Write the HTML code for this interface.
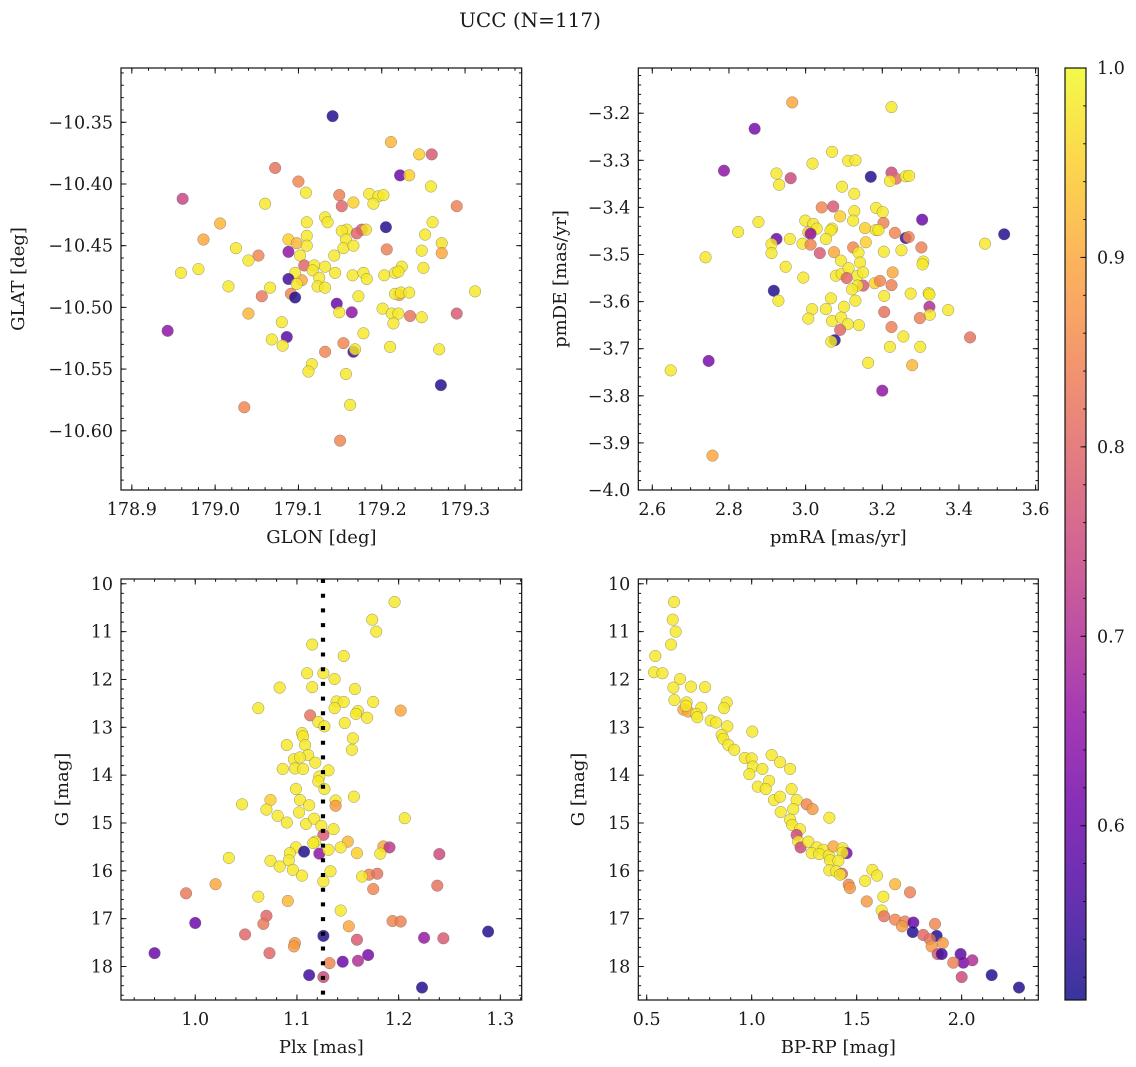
<!DOCTYPE html>
<html><head><meta charset="utf-8">
<style>
html,body{margin:0;padding:0;background:#fff;}
svg{display:block;}
text{font-family:"DejaVu Serif","Liberation Serif",serif;fill:#1a1a1a;}
</style></head>
<body>
<svg id="fig" width="1136" height="1067" viewBox="0 0 1136 1067" xmlns="http://www.w3.org/2000/svg">
<rect width="1136" height="1067" fill="#fff"/>
<text x="530" y="27" font-size="20" text-anchor="middle">UCC (N=117)</text>
</svg>
<script>
// ---- data ----
const glon=[179.141,179.211,179.245,179.260,179.222,179.233,179.259,179.072,179.100,179.109,178.961,179.149,179.152,179.166,179.185,179.196,179.202,179.190,179.290,179.060,179.006,179.132,179.135,179.110,179.205,179.261,179.158,179.152,179.176,179.181,179.170,178.986,179.025,179.088,179.098,179.110,179.110,179.157,179.154,179.166,179.252,179.206,179.088,179.102,179.052,179.272,179.272,179.248,179.040,179.143,179.107,179.119,179.132,179.117,179.104,179.096,179.250,179.224,178.959,178.980,179.144,179.165,179.178,179.182,179.203,179.216,179.220,179.088,179.098,179.125,179.123,179.132,179.016,179.066,179.056,179.091,179.096,179.172,179.221,179.216,179.223,179.233,179.312,179.146,179.149,179.164,179.201,179.212,179.220,179.234,179.248,179.290,179.040,178.943,179.080,179.214,179.086,179.068,179.081,179.154,179.166,179.168,179.178,179.210,179.269,179.132,179.116,179.112,179.157,179.271,179.035,179.162,179.150];
const glat=[-10.345,-10.366,-10.376,-10.376,-10.393,-10.393,-10.402,-10.387,-10.398,-10.407,-10.412,-10.409,-10.418,-10.415,-10.408,-10.410,-10.409,-10.416,-10.418,-10.416,-10.432,-10.427,-10.431,-10.431,-10.435,-10.431,-10.437,-10.438,-10.437,-10.437,-10.440,-10.445,-10.452,-10.445,-10.448,-10.442,-10.450,-10.445,-10.452,-10.450,-10.441,-10.453,-10.455,-10.458,-10.458,-10.448,-10.456,-10.454,-10.462,-10.458,-10.466,-10.466,-10.467,-10.470,-10.478,-10.472,-10.468,-10.467,-10.472,-10.469,-10.472,-10.474,-10.472,-10.477,-10.474,-10.472,-10.471,-10.477,-10.481,-10.476,-10.483,-10.484,-10.483,-10.484,-10.491,-10.489,-10.492,-10.491,-10.490,-10.489,-10.488,-10.488,-10.487,-10.497,-10.504,-10.504,-10.501,-10.505,-10.505,-10.507,-10.508,-10.505,-10.505,-10.519,-10.512,-10.513,-10.524,-10.526,-10.531,-10.529,-10.536,-10.534,-10.521,-10.532,-10.534,-10.536,-10.546,-10.552,-10.554,-10.563,-10.581,-10.579,-10.608];
const prob1=[.52,.92,.95,.78,.6,.95,.98,.82,.85,.98,.74,.84,.8,.95,.98,.98,.98,.98,.84,.98,.92,.98,.98,.98,.52,.98,.98,.98,.78,.97,.8,.9,.98,.95,.92,.98,.98,.98,.98,.98,.98,.84,.65,.98,.85,.97,.9,.98,.98,.98,.8,.98,.98,.98,.9,.98,.98,.98,.98,.98,.98,.98,.98,.98,.98,.98,.98,.55,.98,.98,.98,.98,.98,.98,.83,.85,.52,.98,.9,.98,.98,.98,.98,.6,.98,.65,.98,.98,.98,.82,.98,.78,.92,.65,.98,.98,.58,.98,.98,.85,.55,.98,.98,.98,.98,.85,.98,.98,.98,.52,.85,.98,.85];

const pmra=[2.965,3.224,2.867,3.069,3.018,3.111,3.130,2.787,2.924,2.931,2.961,3.170,3.224,3.236,3.220,3.261,3.270,3.095,3.127,3.042,3.072,3.090,3.127,3.124,3.184,3.201,3.203,3.304,2.877,2.824,2.999,3.020,3.029,3.007,3.013,3.069,3.065,3.155,3.183,3.190,3.233,3.261,3.269,3.518,2.924,2.911,2.959,2.992,3.013,3.053,3.157,3.468,2.739,2.911,3.037,3.074,3.124,3.138,3.204,3.250,3.302,2.948,3.092,3.142,3.307,3.305,2.994,3.079,3.094,3.112,3.135,3.150,3.227,3.107,3.150,3.135,3.121,3.180,3.194,3.224,2.917,2.929,3.066,3.130,3.205,3.274,3.321,3.323,3.323,3.324,3.372,3.017,3.007,3.053,3.100,3.069,3.093,3.110,3.139,3.090,3.298,3.205,3.224,3.429,3.076,3.067,3.255,3.220,3.299,2.747,2.648,3.163,3.278,3.200,2.757];
const pmde=[-3.177,-3.187,-3.233,-3.282,-3.307,-3.301,-3.300,-3.322,-3.328,-3.352,-3.338,-3.335,-3.326,-3.339,-3.344,-3.334,-3.333,-3.356,-3.371,-3.400,-3.398,-3.419,-3.408,-3.428,-3.401,-3.410,-3.433,-3.426,-3.431,-3.452,-3.428,-3.435,-3.445,-3.453,-3.456,-3.445,-3.449,-3.444,-3.448,-3.448,-3.454,-3.465,-3.463,-3.457,-3.467,-3.478,-3.467,-3.477,-3.479,-3.467,-3.474,-3.477,-3.506,-3.497,-3.497,-3.495,-3.485,-3.496,-3.494,-3.491,-3.485,-3.526,-3.513,-3.517,-3.515,-3.521,-3.549,-3.545,-3.541,-3.529,-3.545,-3.538,-3.538,-3.550,-3.566,-3.566,-3.574,-3.561,-3.556,-3.565,-3.577,-3.598,-3.593,-3.598,-3.588,-3.583,-3.582,-3.585,-3.611,-3.628,-3.618,-3.616,-3.636,-3.616,-3.611,-3.641,-3.634,-3.648,-3.650,-3.660,-3.635,-3.622,-3.654,-3.676,-3.682,-3.685,-3.674,-3.696,-3.696,-3.726,-3.746,-3.730,-3.735,-3.789,-3.927];
const prob2=[.9,.98,.62,.98,.98,.98,.98,.65,.98,.98,.75,.52,.75,.82,.98,.98,.98,.98,.98,.85,.78,.95,.98,.98,.98,.98,.84,.6,.98,.98,.98,.98,.98,.95,.65,.98,.98,.95,.98,.98,.85,.55,.85,.52,.6,.98,.98,.98,.85,.98,.95,.98,.98,.98,.78,.9,.85,.98,.98,.98,.84,.98,.98,.98,.98,.98,.98,.98,.98,.98,.98,.98,.9,.8,.78,.98,.98,.95,.85,.84,.52,.98,.98,.98,.98,.98,.98,.98,.7,.98,.98,.98,.98,.98,.98,.98,.98,.98,.98,.8,.84,.82,.84,.82,.52,.98,.98,.98,.98,.62,.98,.98,.92,.65,.9];

const plx=[1.196,1.174,1.178,1.115,1.146,1.110,1.126,1.137,1.083,1.115,1.157,1.062,1.139,1.146,1.137,1.175,1.202,1.160,1.158,1.169,1.113,1.121,1.127,1.147,1.105,1.106,1.155,1.154,1.090,1.108,1.111,1.097,1.103,1.118,1.086,1.098,1.106,1.131,1.122,1.121,1.127,1.099,1.156,1.046,1.074,1.103,1.138,1.138,1.112,1.070,1.102,1.081,1.090,1.109,1.117,1.124,1.136,1.206,1.126,1.118,1.116,1.150,1.143,1.099,1.093,1.107,1.122,1.131,1.159,1.185,1.191,1.182,1.240,1.033,1.074,1.092,1.083,1.096,1.105,1.133,1.171,1.179,1.164,1.126,1.020,0.991,1.238,1.175,1.062,1.091,1.143,1.070,1.067,1.000,1.151,1.194,1.202,1.288,1.049,1.098,1.097,1.159,1.126,1.225,1.244,0.960,1.073,1.170,1.145,1.160,1.132,1.112,1.126,1.223];
const gmag3=[10.38,10.75,11.00,11.27,11.51,11.87,11.87,11.99,12.17,12.16,12.20,12.60,12.46,12.47,12.60,12.47,12.65,12.66,12.72,12.80,12.75,12.89,12.98,12.91,13.12,13.19,13.23,13.47,13.37,13.37,13.58,13.67,13.63,13.74,13.87,13.86,13.87,13.90,14.03,14.13,14.29,14.29,14.45,14.61,14.52,14.52,14.53,14.64,14.63,14.72,14.78,14.85,14.99,15.02,14.91,15.06,15.13,14.90,15.25,15.39,15.42,15.39,15.51,15.51,15.63,15.60,15.64,15.56,15.63,15.49,15.51,15.64,15.65,15.73,15.79,15.78,15.91,15.98,16.10,16.01,16.08,16.06,16.12,16.22,16.28,16.47,16.31,16.38,16.54,16.63,16.83,16.94,17.11,17.09,17.16,17.05,17.06,17.27,17.33,17.51,17.58,17.44,17.36,17.40,17.41,17.72,17.72,17.76,17.90,17.88,17.93,18.18,18.22,18.44];
const prob3=[.98,.98,.98,.98,.98,.98,.98,.98,.98,.98,.98,.98,.98,.98,.98,.98,.9,.98,.98,.98,.82,.98,.98,.98,.98,.98,.98,.98,.98,.98,.98,.98,.98,.98,.98,.98,.98,.98,.98,.98,.98,.98,.98,.98,.95,.98,.98,.88,.98,.98,.98,.98,.98,.98,.98,.98,.98,.98,.78,.98,.98,.92,.98,.98,.98,.52,.65,.98,.95,.9,.72,.98,.75,.98,.98,.98,.98,.98,.98,.98,.85,.82,.98,.98,.9,.83,.82,.85,.98,.92,.98,.8,.83,.6,.9,.85,.84,.52,.8,.88,.88,.78,.52,.66,.78,.6,.8,.62,.6,.7,.85,.55,.75,.52];
const plxRef=[1.1256];

const bprp=[0.630,0.624,0.638,0.616,0.541,0.535,0.575,0.659,0.627,0.711,0.778,0.632,0.690,0.675,0.698,0.687,0.760,0.735,0.741,0.805,0.830,0.881,0.868,0.884,1.003,0.857,0.865,0.889,0.917,0.967,1.000,1.095,1.135,1.183,1.005,1.051,0.989,1.083,1.029,1.067,1.190,1.106,1.135,1.214,1.262,1.290,1.138,1.198,1.370,1.183,1.192,1.230,1.214,1.222,1.233,1.270,1.310,1.286,1.341,1.322,1.367,1.389,1.433,1.452,1.433,1.373,1.413,1.370,1.402,1.430,1.421,1.462,1.468,1.540,1.575,1.597,1.683,1.754,1.627,1.548,1.619,1.630,1.683,1.730,1.770,1.716,1.767,1.873,1.817,1.881,1.849,1.910,1.857,1.886,1.905,1.995,2.008,2.051,1.960,2.000,2.143,2.273];
const gmag4=[10.38,10.75,11.00,11.27,11.51,11.85,11.87,11.99,12.17,12.15,12.16,12.43,12.48,12.63,12.67,12.55,12.59,12.72,12.79,12.86,12.90,12.48,12.60,12.98,13.09,13.16,13.24,13.37,13.47,13.64,13.65,13.58,13.73,13.87,13.82,13.87,13.98,14.12,14.24,14.29,14.29,14.52,14.45,14.52,14.61,14.71,14.77,14.71,14.89,14.93,15.04,15.13,15.25,15.39,15.51,15.39,15.51,15.63,15.56,15.65,15.68,15.49,15.53,15.63,15.62,15.78,15.79,15.99,16.01,16.06,16.08,16.29,16.36,16.21,15.98,16.10,16.28,16.45,16.54,16.64,16.83,16.95,17.02,17.06,17.08,17.16,17.28,17.11,17.34,17.36,17.43,17.51,17.58,17.74,17.74,17.74,17.92,17.87,17.92,18.22,18.18,18.44];
const prob4=[.98,.98,.98,.98,.98,.98,.98,.98,.98,.98,.98,.98,.98,.9,.9,.98,.98,.98,.98,.98,.98,.98,.98,.98,.98,.98,.98,.98,.98,.98,.98,.98,.98,.98,.98,.98,.98,.98,.98,.98,.98,.98,.98,.98,.85,.88,.98,.98,.98,.98,.98,.98,.75,.98,.75,.98,.98,.98,.98,.98,.98,.9,.98,.62,.98,.98,.98,.98,.98,.8,.98,.85,.88,.98,.98,.98,.92,.84,.98,.88,.98,.82,.85,.84,.6,.88,.52,.85,.8,.52,.82,.88,.88,.78,.55,.58,.62,.7,.84,.75,.52,.52];

const cbTicks=[0.6,0.7,0.8,0.9,1.0];
const cbMin=0.508, cbMax=1.0;

// ---- rendering ----
const NS="http://www.w3.org/2000/svg";
const svg=document.getElementById('fig');
const TF=17.5, LF=18;
function el(tag,attrs,parent){const e=document.createElementNS(NS,tag);for(const k in attrs)e.setAttribute(k,attrs[k]);(parent||svg).appendChild(e);return e;}
const plasma=[[13,8,135],[65,4,157],[106,0,168],[143,13,164],[177,42,144],[204,71,120],[225,100,98],[242,132,75],[252,166,54],[252,206,37],[240,249,33]];
function cmap(v){let t=(v-cbMin)/(cbMax-cbMin);t=Math.max(0,Math.min(1,t));const f=t*10,i=Math.min(9,Math.floor(f)),r=f-i;const a=plasma[i],b=plasma[i+1];return 'rgb('+[0,1,2].map(k=>Math.round(a[k]+(b[k]-a[k])*r)).join(',')+')';}
function fmt(v,d){const s=Math.abs(v).toFixed(d);return (v<-1e-9?'\u2212':'')+s;}

function panel(o){
  const g=el('g',{});
  
  
  const X=v=>o.x0+(v-o.xmin)/(o.xmax-o.xmin)*(o.x1-o.x0);
  const Y=o.invert? (v=>o.y0+(v-o.ymin)/(o.ymax-o.ymin)*(o.y1-o.y0)) : (v=>o.y1-(v-o.ymin)/(o.ymax-o.ymin)*(o.y1-o.y0));
  const pg=el('g',{},g);
  
  
  for(let i=0;i<o.xs.length;i++){
    const c=el('circle',{cx:X(o.xs[i]).toFixed(2),cy:Y(o.ys[i]).toFixed(2),r:5.8,fill:cmap(o.cs[i]),'fill-opacity':0.82,stroke:'#6a6a6a','stroke-width':0.5,'stroke-opacity':0.7},pg);
    
    
  }
  if(o.extra) o.extra(g,X,Y);
  const fr=el('rect',{x:o.x0,y:o.y0,width:o.x1-o.x0,height:o.y1-o.y0,fill:'none',stroke:'#111','stroke-width':1.2},g);
  
  
  const tg=el('g',{stroke:'#111','stroke-width':1},g);
  const eps=1e-9;
  const xlo=Math.min(o.xmin,o.xmax),xhi=Math.max(o.xmin,o.xmax),ylo=Math.min(o.ymin,o.ymax),yhi=Math.max(o.ymin,o.ymax);
  for(let v=Math.ceil(xlo/o.xminor-eps)*o.xminor;v<=xhi+eps;v+=o.xminor){const x=X(v);el('line',{x1:x,x2:x,y1:o.y1,y2:o.y1-2.8},tg);el('line',{x1:x,x2:x,y1:o.y0,y2:o.y0+2.8},tg);}
  for(let v=Math.ceil(ylo/o.yminor-eps)*o.yminor;v<=yhi+eps;v+=o.yminor){const y=Y(v);el('line',{x1:o.x0,x2:o.x0+2.8,y1:y,y2:y},tg);el('line',{x1:o.x1,x2:o.x1-2.8,y1:y,y2:y},tg);}
  o.xticks.forEach(v=>{const x=X(v);el('line',{x1:x,x2:x,y1:o.y1,y2:o.y1-5.5},tg);el('line',{x1:x,x2:x,y1:o.y0,y2:o.y0+5.5},tg);
    const t=el('text',{x:x,y:o.y1+25,'font-size':TF,'text-anchor':'middle'},g);t.textContent=fmt(v,o.xdec);
    });
  o.yticks.forEach(v=>{const y=Y(v);el('line',{x1:o.x0,x2:o.x0+5.5,y1:y,y2:y},tg);el('line',{x1:o.x1,x2:o.x1-5.5,y1:y,y2:y},tg);
    const t=el('text',{x:o.x0-8,y:y+6,'font-size':TF,'text-anchor':'end'},g);t.textContent=fmt(v,o.ydec);
    });
  const xl=el('text',{x:(o.x0+o.x1)/2,y:o.y1+53,'font-size':LF,'text-anchor':'middle'},g);xl.textContent=o.xlabel;
  
  const yc=(o.y0+o.y1)/2;
  const yl=el('text',{x:o.ylx,y:yc,'font-size':LF,'text-anchor':'middle',transform:'rotate(-90 '+o.ylx+' '+yc+')'},g);yl.textContent=o.ylabel;
  
}

panel({name:'glon-glat-panel',x0:121,x1:521.7,y0:68,y1:490,xmin:178.887,xmax:179.368,ymin:-10.648,ymax:-10.306,
  xs:glon,ys:glat,cs:prob1,xticks:[178.9,179.0,179.1,179.2,179.3],xdec:1,yticks:[-10.35,-10.40,-10.45,-10.50,-10.55,-10.60],ydec:2,
  xminor:0.02,yminor:0.01,xlabel:'GLON [deg]',ylabel:'GLAT [deg]',ylx:24});
panel({name:'pm-panel',x0:638.3,x1:1038.3,y0:68,y1:490,xmin:2.5635,xmax:3.607,ymin:-4.0,ymax:-3.104,
  xs:pmra,ys:pmde,cs:prob2,xticks:[2.6,2.8,3.0,3.2,3.4,3.6],xdec:1,yticks:[-3.2,-3.3,-3.4,-3.5,-3.6,-3.7,-3.8,-3.9,-4.0],ydec:1,
  xminor:0.05,yminor:0.02,xlabel:'pmRA [mas/yr]',ylabel:'pmDE [mas/yr]',ylx:566});
panel({name:'plx-g-panel',x0:121,x1:521.7,y0:579,y1:1000,xmin:0.927,xmax:1.321,ymin:9.9,ymax:18.7,invert:true,
  xs:plx,ys:gmag3,cs:prob3,xticks:[1.0,1.1,1.2,1.3],xdec:1,yticks:[10,11,12,13,14,15,16,17,18],ydec:0,
  xminor:0.02,yminor:0.2,xlabel:'Plx [mas]',ylabel:'G [mag]',ylx:68,
  extra:(g,X,Y)=>{plxRef.forEach(v=>{const l=el('line',{x1:X(v),x2:X(v),y1:579,y2:1000,stroke:'#000','stroke-width':4.2,'stroke-dasharray':'4 10.7'},g);
    });}});
panel({name:'cmd-panel',x0:638.3,x1:1038.3,y0:579,y1:1000,xmin:0.46,xmax:2.365,ymin:9.9,ymax:18.7,invert:true,
  xs:bprp,ys:gmag4,cs:prob4,xticks:[0.5,1.0,1.5,2.0],xdec:1,yticks:[10,11,12,13,14,15,16,17,18],ydec:0,
  xminor:0.1,yminor:0.2,xlabel:'BP-RP [mag]',ylabel:'G [mag]',ylx:584});

// colorbar
const cb=el('g',{});


const cx0=1065,cx1=1086,cy0=68,cy1=1000;
const CY=v=>cy1-(v-cbMin)/(cbMax-cbMin)*(cy1-cy0);
const defs=el('defs',{});
const grad=el('linearGradient',{id:'cbgrad',x1:0,y1:1,x2:0,y2:0},defs);
for(let i=0;i<=40;i++){const v=cbMin+(cbMax-cbMin)*i/40;el('stop',{offset:(i/40*100)+'%','stop-color':cmap(v)},grad);}
el('rect',{x:cx0,y:cy0,width:cx1-cx0,height:cy1-cy0,fill:'url(#cbgrad)','fill-opacity':0.82},cb);
el('rect',{x:cx0,y:cy0,width:cx1-cx0,height:cy1-cy0,fill:'none',stroke:'#111','stroke-width':1.2},cb);
for(let v=0.52;v<=1.0001;v+=0.02){el('line',{x1:cx1,x2:cx1-2.8,y1:CY(v),y2:CY(v),stroke:'#111','stroke-width':1},cb);}
cbTicks.forEach(v=>{const y=CY(v);el('line',{x1:cx1,x2:cx1-5.5,y1:y,y2:y,stroke:'#111','stroke-width':1},cb);
  const t=el('text',{x:cx1+11,y:y+6,'font-size':TF},cb);t.textContent=v.toFixed(1);
  });
</script>
</body></html>
